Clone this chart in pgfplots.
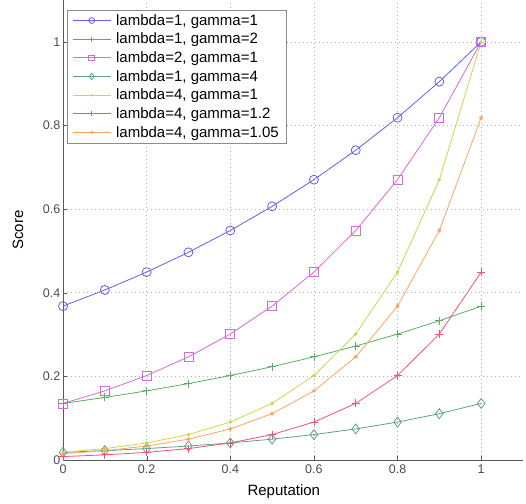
\documentclass[border=0pt]{standalone}
\usepackage{fontspec}
\setmainfont{Liberation Sans}
\usepackage{pgfplots}
\pgfplotsset{compat=1.18}
\definecolor{cA}{RGB}{95,95,235}
\definecolor{cB}{RGB}{90,175,95}
\definecolor{cC}{RGB}{215,105,220}
\definecolor{cD}{RGB}{95,160,140}
\definecolor{cE}{RGB}{200,215,75}
\definecolor{cF}{RGB}{240,85,110}
\definecolor{cG}{RGB}{250,165,95}
\begin{document}
\begin{tikzpicture}
\begin{axis}[name=ax,
  scale only axis, width=460pt, height=460pt,
  xmin=0, xmax=1.1, ymin=0, ymax=1.1,
  axis x line*=bottom, axis y line*=left,
  axis line style={black!65, line width=0.6pt},
  xtick={0,0.2,0.4,0.6,0.8,1}, ytick={0,0.2,0.4,0.6,0.8,1},
  tick align=inside, major tick length=4pt,
  tick style={black!65},
  grid=major,
  major grid style={black!30, line width=0.6pt, dash pattern=on 1pt off 3pt},
  /pgf/number format/assume math mode=true,
  tick label style={font=\fontsize{12.5}{14}\selectfont, text=black!70},
  yticklabel style={inner xsep=0pt, xshift=-2.5pt},
  xticklabel style={inner ysep=0pt, yshift=-5pt},
  xlabel={Reputation}, ylabel={Score},
  label style={font=\fontsize{15}{17}\selectfont},
  xlabel style={at={(axis description cs:0.48,-0.0696)}, anchor=center},
  ylabel style={at={(axis description cs:-0.098,0.5)}, anchor=center},
  legend style={at={(axis description cs:0.009,0.978)}, anchor=north west,
    font=\fontsize{15}{17}\selectfont, draw=black!45, fill=white,
    row sep=2.3pt, inner xsep=5pt, inner ysep=2pt,
    /tikz/every odd column/.append style={column sep=3pt}},
  legend cell align=left,
  legend image code/.code={\draw[mark repeat=2,mark phase=2, every mark/.append style={scale=0.65}] plot coordinates {(0pt,0pt) (19pt,0pt) (38pt,0pt)};},
  every axis plot/.append style={line width=0.8pt},
]
\addplot[cA, mark=o, mark size=4.5pt, mark options={line width=0.8pt}] coordinates {
(0,0.3679) (0.1,0.4066) (0.2,0.4493) (0.3,0.4966) (0.4,0.5488) (0.5,0.6065)
(0.6,0.6703) (0.7,0.7408) (0.8,0.8187) (0.9,0.9048) (1,1)};
\addlegendentry{lambda=1, gamma=1}
\addplot[cB, mark=+, mark size=4pt] coordinates {
(0,0.1353) (0.1,0.1496) (0.2,0.1653) (0.3,0.1827) (0.4,0.2019) (0.5,0.2231)
(0.6,0.2466) (0.7,0.2725) (0.8,0.3012) (0.9,0.3329) (1,0.3679)};
\addlegendentry{lambda=1, gamma=2}
\addplot[cC, mark=square, mark size=4.5pt] coordinates {
(0,0.1353) (0.1,0.1653) (0.2,0.2019) (0.3,0.2466) (0.4,0.3012) (0.5,0.3679)
(0.6,0.4493) (0.7,0.5488) (0.8,0.6703) (0.9,0.8187) (1,1)};
\addlegendentry{lambda=2, gamma=1}
\addplot[cD, mark=diamond, mark size=5pt] coordinates {
(0,0.0183) (0.1,0.0224) (0.2,0.0273) (0.3,0.0334) (0.4,0.0408) (0.5,0.0498)
(0.6,0.0608) (0.7,0.0743) (0.8,0.0907) (0.9,0.1108) (1,0.1353)};
\addlegendentry{lambda=1, gamma=4}
\addplot[cE, mark=*, mark size=1.3pt] coordinates {
(0,0.0183) (0.1,0.0273) (0.2,0.0408) (0.3,0.0608) (0.4,0.0907) (0.5,0.1353)
(0.6,0.2019) (0.7,0.3012) (0.8,0.4493) (0.9,0.6703) (1,1)};
\addlegendentry{lambda=4, gamma=1}
\addplot[cF, mark=+, mark size=4pt] coordinates {
(0,0.0082) (0.1,0.0123) (0.2,0.0183) (0.3,0.0273) (0.4,0.0408) (0.5,0.0608)
(0.6,0.0907) (0.7,0.1353) (0.8,0.2019) (0.9,0.3012) (1,0.4493)};
\addlegendentry{lambda=4, gamma=1.2}
\addplot[cG, mark=asterisk, mark size=2.2pt] coordinates {
(0,0.0150) (0.1,0.0224) (0.2,0.0334) (0.3,0.0498) (0.4,0.0743) (0.5,0.1108)
(0.6,0.1653) (0.7,0.2466) (0.8,0.3679) (0.9,0.5488) (1,0.8187)};
\addlegendentry{lambda=4, gamma=1.05}
\end{axis}
\pgfresetboundingbox
\useasboundingbox ([xshift=-63pt,yshift=-43pt]ax.south west) rectangle ([xshift=3pt]ax.north east);
\end{tikzpicture}
\end{document}
